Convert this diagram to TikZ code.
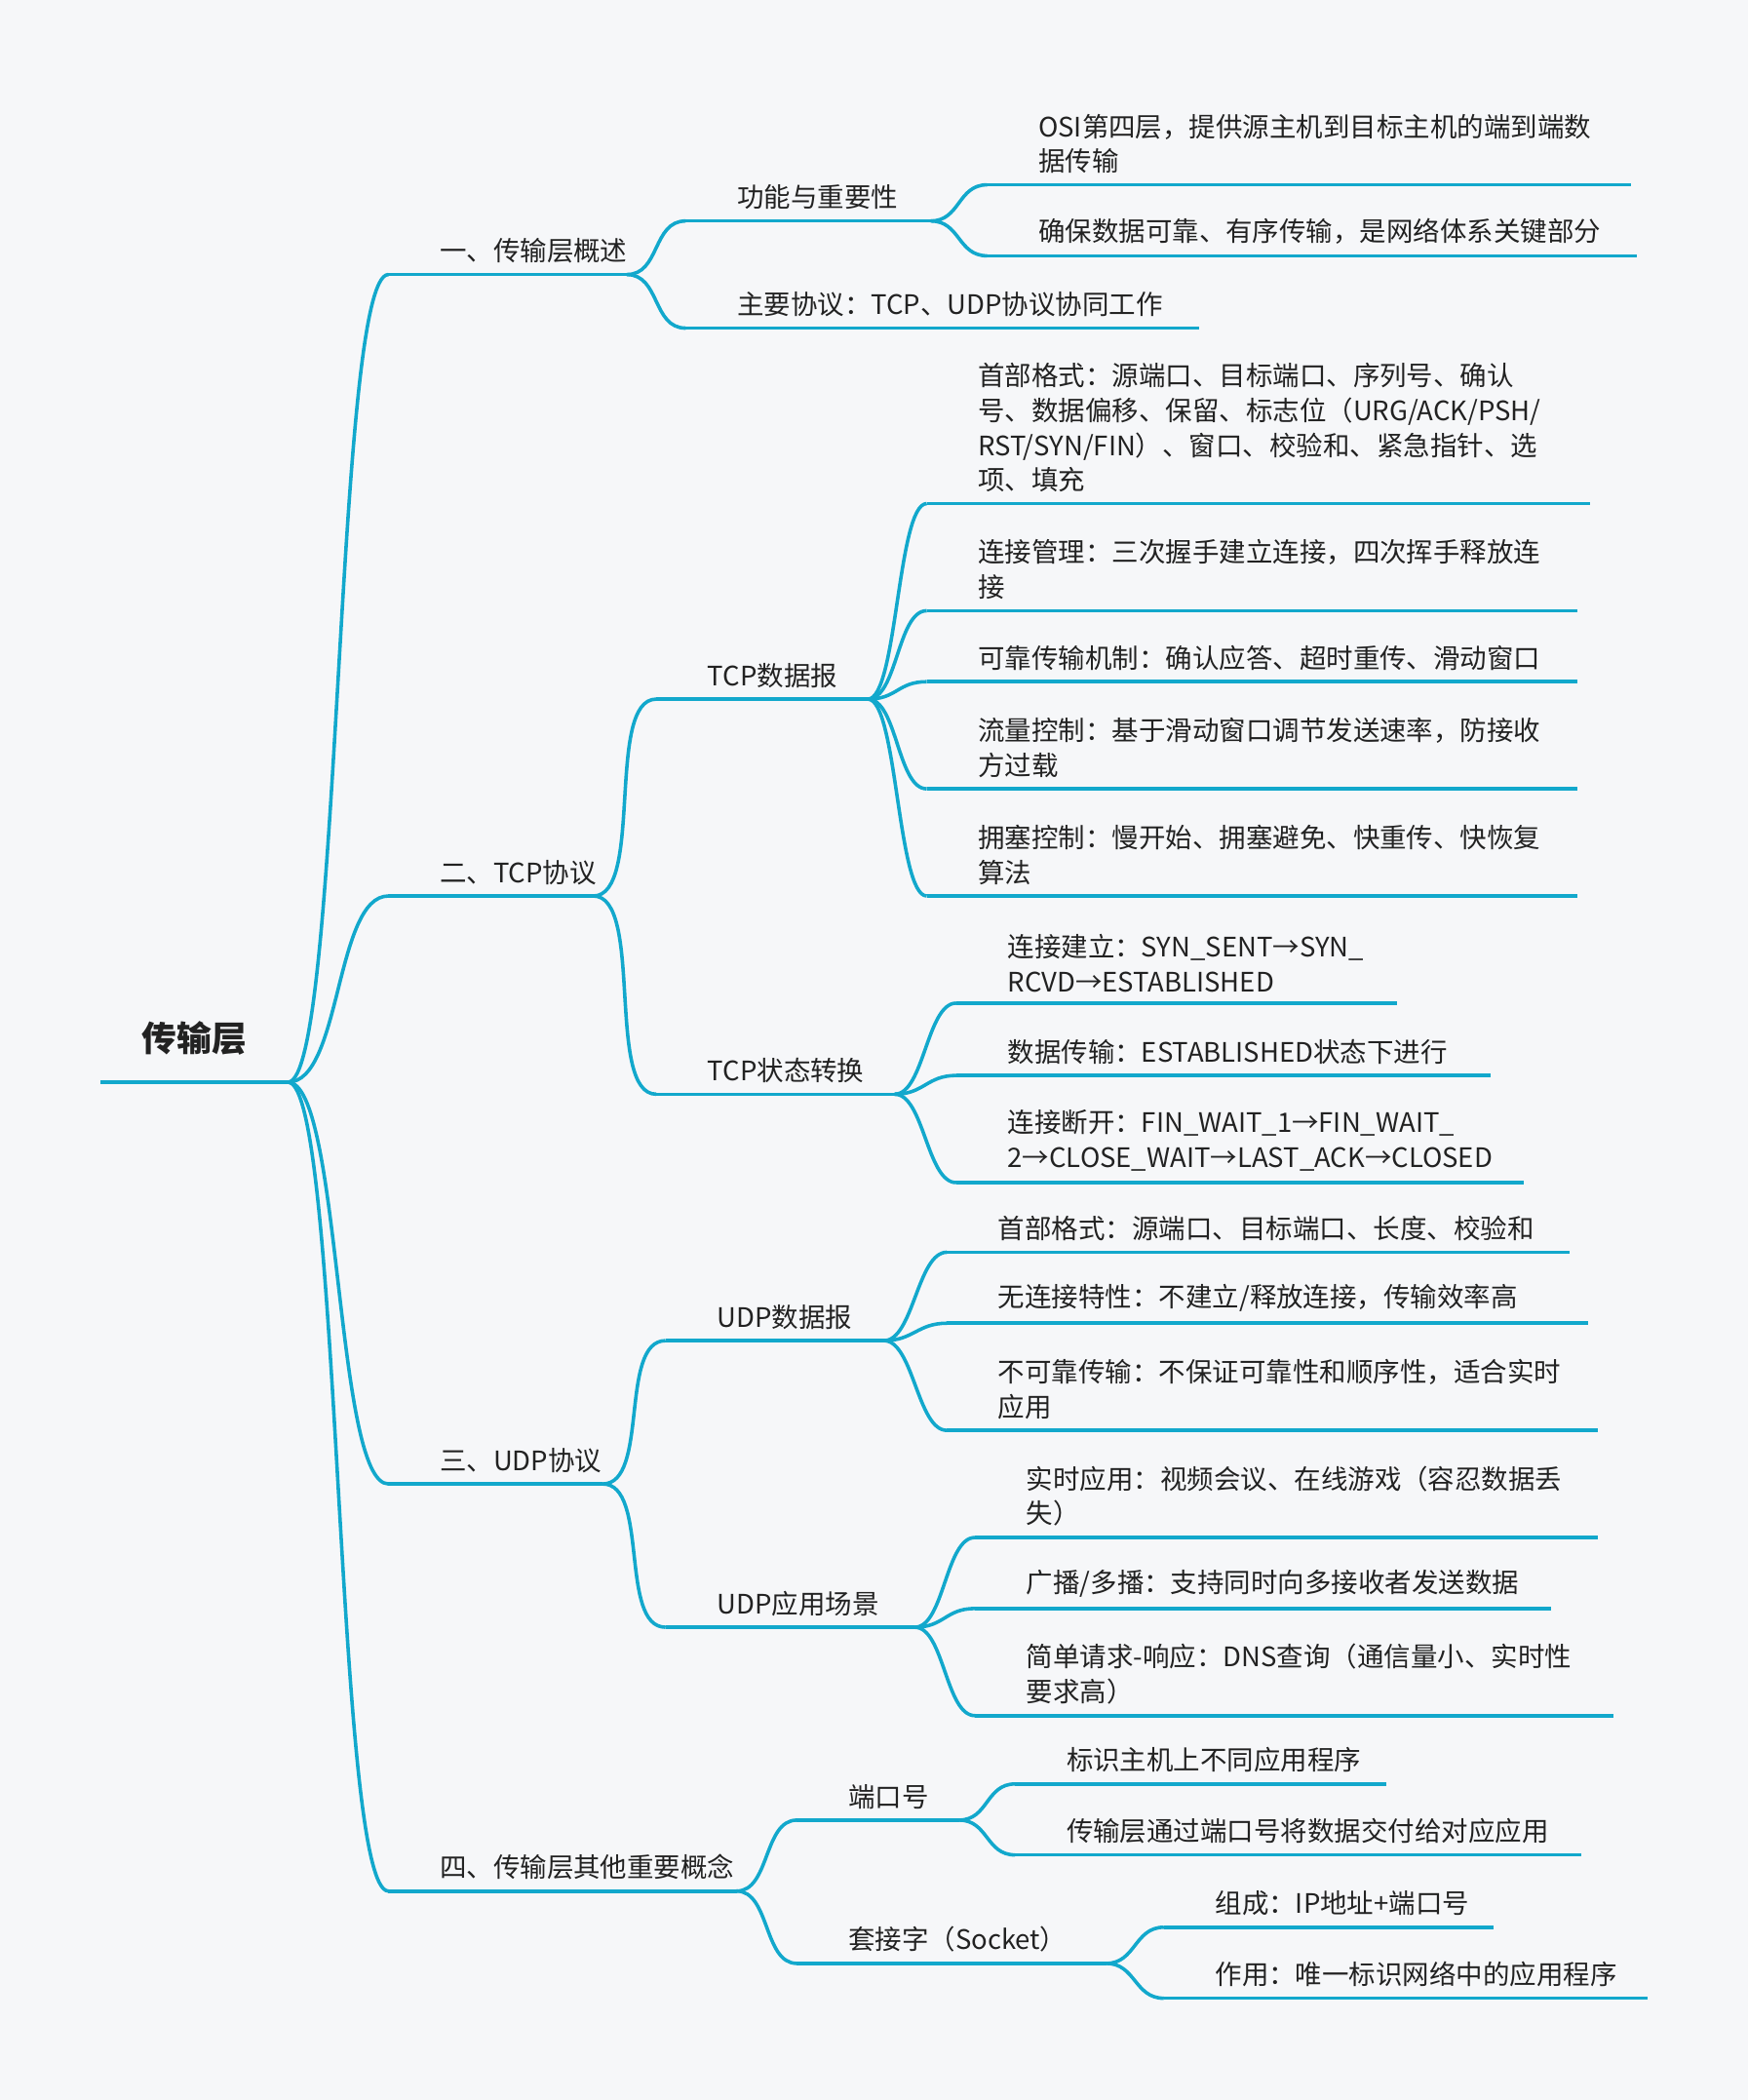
\documentclass[tikz,border=0pt]{standalone}
\usepackage{fontspec}
\setmainfont{Noto Sans CJK SC}
\usetikzlibrary{calc}
\definecolor{ln}{HTML}{12A8CC}
\definecolor{bg}{HTML}{F6F7F9}
\definecolor{tx}{HTML}{222222}
\tikzset{
 ul/.style={draw=ln,line width=1.3pt},
 cn/.style={draw=ln,line width=1.3pt},
 lbl/.style={anchor=south west,inner sep=0pt,align=left,text=tx,font=\fontsize{10}{13}\selectfont}
}
\newcommand\branch[5]{%
 \coordinate (#1S) at (#2,#4); \coordinate (#1E) at (#3,#4);
 \draw[ul] (#1S) -- (#1E);
 \node[lbl] (#1) at ($(#1S)+(38,-8)$) {#5};}
\newcommand\link[3]{\draw[cn] (#1E) .. controls +(#3,0) and +(-#3,0) .. (#2S);}
\begin{document}
\begin{tikzpicture}[x=0.5pt,y=-0.5pt]
\fill[bg] (0,0) rectangle (1305,1568);
\useasboundingbox (0,0) rectangle (1305,1568);
% root
\coordinate (rS) at (75,808); \coordinate (rE) at (215,808);
\draw[ul] (rS) -- (rE);
\node[anchor=south,inner sep=0pt,font=\fontsize{13}{15}\selectfont\bfseries,text=tx] (r) at (145,788) {传输层};
% level 1
\branch{a}{290}{468}{205}{一、传输层概述}
\branch{b}{290}{443}{669}{二、TCP协议}
\branch{c}{290}{450}{1108}{三、UDP协议}
\branch{d}{290}{550}{1412}{四、传输层其他重要概念}
\foreach \n in {a,b,c,d}{\link{r}{\n}{40}}
% 一
\branch{a1}{512}{695}{165}{功能与重要性}
\branch{a2}{512}{895}{245}{主要协议：TCP、UDP协议协同工作}
\link{a}{a1}{25}\link{a}{a2}{25}
\branch{a11}{737}{1218}{138}{OSI第四层，提供源主机到目标主机的端到端数\\据传输}
\branch{a12}{737}{1222}{191}{确保数据可靠、有序传输，是网络体系关键部分}
\link{a1}{a11}{22}\link{a1}{a12}{22}
% 二
\branch{b1}{490}{648}{522}{TCP数据报}
\branch{b2}{490}{668}{817}{TCP状态转换}
\link{b}{b1}{38}\link{b}{b2}{38}
\branch{b11}{692}{1187}{376}{首部格式：源端口、目标端口、序列号、确认\\号、数据偏移、保留、标志位（URG/ACK/PSH/\\RST/SYN/FIN）、窗口、校验和、紧急指针、选\\项、填充}
\branch{b12}{692}{1178}{456}{连接管理：三次握手建立连接，四次挥手释放连\\接}
\branch{b13}{692}{1178}{509}{可靠传输机制：确认应答、超时重传、滑动窗口}
\branch{b14}{692}{1178}{589}{流量控制：基于滑动窗口调节发送速率，防接收\\方过载}
\branch{b15}{692}{1178}{669}{拥塞控制：慢开始、拥塞避免、快重传、快恢复\\算法}
\foreach \n in {b11,b12,b13,b14,b15}{\link{b1}{\n}{22}}
\branch{b21}{714}{1043}{749}{连接建立：SYN\_SENT→SYN\_\\RCVD→ESTABLISHED}
\branch{b22}{714}{1113}{803}{数据传输：ESTABLISHED状态下进行}
\branch{b23}{714}{1138}{883}{连接断开：FIN\_WAIT\_1→FIN\_WAIT\_\\2→CLOSE\_WAIT→LAST\_ACK→CLOSED}
\foreach \n in {b21,b22,b23}{\link{b2}{\n}{22}}
% 三
\branch{c1}{497}{660}{1001}{UDP数据报}
\branch{c2}{497}{683}{1215}{UDP应用场景}
\link{c}{c1}{35}\link{c}{c2}{35}
\branch{c11}{707}{1172}{935}{首部格式：源端口、目标端口、长度、校验和}
\branch{c12}{707}{1186}{988}{无连接特性：不建立/释放连接，传输效率高}
\branch{c13}{707}{1193}{1068}{不可靠传输：不保证可靠性和顺序性，适合实时\\应用}
\foreach \n in {c11,c12,c13}{\link{c1}{\n}{22}}
\branch{c21}{728}{1193}{1148}{实时应用：视频会议、在线游戏（容忍数据丢\\失）}
\branch{c22}{728}{1158}{1201}{广播/多播：支持同时向多接收者发送数据}
\branch{c23}{728}{1205}{1281}{简单请求-响应：DNS查询（通信量小、实时性\\要求高）}
\foreach \n in {c21,c22,c23}{\link{c2}{\n}{22}}
% 四
\branch{d1}{595}{716}{1359}{端口号}
\branch{d2}{595}{826}{1466}{套接字（Socket）}
\link{d}{d1}{25}\link{d}{d2}{25}
\branch{d11}{758}{1035}{1332}{标识主机上不同应用程序}
\branch{d12}{758}{1181}{1385}{传输层通过端口号将数据交付给对应应用}
\link{d1}{d11}{22}\link{d1}{d12}{22}
\branch{d21}{869}{1115}{1439}{组成：IP地址+端口号}
\branch{d22}{869}{1230}{1492}{作用：唯一标识网络中的应用程序}
\link{d2}{d21}{22}\link{d2}{d22}{22}
\end{tikzpicture}
\end{document}
